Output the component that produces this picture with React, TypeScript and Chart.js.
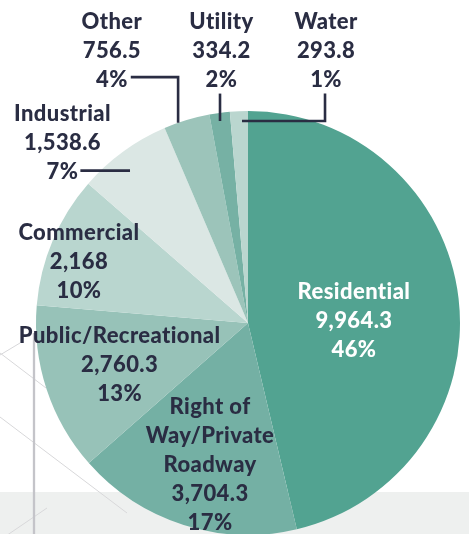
import { useEffect, useRef } from 'react';
import { Chart, registerables } from 'chart.js';

Chart.register(...registerables);

// ---- data ----
const categories = [
  'Residential',
  'Right of Way/Private Roadway',
  'Public/Recreational',
  'Commercial',
  'Industrial',
  'Other',
  'Utility',
  'Water',
];
const values = [9964.3, 3704.3, 2760.3, 2168, 1538.6, 756.5, 334.2, 293.8];
const nameLines = [
  ['Residential'],
  ['Right of', 'Way/Private', 'Roadway'],
  ['Public/Recreational'],
  ['Commercial'],
  ['Industrial'],
  ['Other'],
  ['Utility'],
  ['Water'],
];
const sliceColors = ['#52a391', '#74b0a4', '#97c2b8', '#b9d6cf', '#dbe7e4', '#9cc4ba', '#76b1a4', '#bad6cf'];

// ---- label layout (t = fraction across slice angle, f = fraction of radius) ----
type Place = {
  mode: 'in' | 'out';
  t: number;
  f: number;
  dx?: number;
  dy?: number;
  leader?: 'h' | 'hv' | 'v' | 'vh';
  color?: string;
};
const labelPlace: Place[] = [
  { mode: 'in', t: 0.531, f: 0.5, color: '#ffffff' },
  { mode: 'in', t: 0.458, f: 0.689 },
  { mode: 'in', t: 0.51, f: 0.636 },
  { mode: 'in', t: 0.42, f: 0.849 },
  { mode: 'out', dx: -0.875, dy: -0.851, leader: 'h', t: 0.433, f: 0.909 },
  { mode: 'out', dx: -0.642, dy: -1.285, leader: 'hv', t: 0.309, f: 1.0 },
  { mode: 'out', dx: -0.125, dy: -1.285, leader: 'v', t: 0.468, f: 0.962 },
  { mode: 'out', dx: 0.368, dy: -1.285, leader: 'vh', t: 0.654, f: 0.953 },
];

const TEXT = '#2a2d43';
const FONT_SIZE = 22;
const LINE_H = 29;
const FONT = `900 ${FONT_SIZE}px Lato, "Open Sans", sans-serif`;

const total = values.reduce((a, b) => a + b, 0);

const backdropPlugin = {
  id: 'backdrop',
  beforeDraw(chart: any) {
    const ctx = chart.ctx as CanvasRenderingContext2D;
    const w = chart.width;
    const h = chart.height;
    ctx.save();
    ctx.fillStyle = '#ffffff';
    ctx.fillRect(0, 0, w, h);
    ctx.fillStyle = '#eef0ef';
    ctx.fillRect(0, 492, w, h - 492);
    // decorative lines
    ctx.strokeStyle = '#d8d8da';
    ctx.lineWidth = 1;
    const segs = [
      [0, 355, 20, 343],
      [0, 353, 46, 388],
      [0, 417, 127, 513],
      [47, 508, 0, 540],
    ];
    segs.forEach(([a, b, c, d]) => {
      ctx.beginPath();
      ctx.moveTo(a, b);
      ctx.lineTo(c, d);
      ctx.stroke();
    });
    ctx.strokeStyle = '#c4c4c9';
    ctx.lineWidth = 2.3;
    ctx.beginPath();
    ctx.moveTo(34, 333);
    ctx.lineTo(34, h);
    ctx.stroke();
    ctx.restore();
  },
};

const labelPlugin = {
  id: 'sliceLabels',
  afterDatasetsDraw(chart: any) {
    const ctx = chart.ctx as CanvasRenderingContext2D;
    const meta = chart.getDatasetMeta(0);
    ctx.save();
    ctx.font = FONT;
    (ctx as any).letterSpacing = '0.4px';
    ctx.textAlign = 'center';
    ctx.textBaseline = 'alphabetic';
    const capHalf = FONT_SIZE * 0.717 / 2;
    meta.data.forEach((arc: any, i: number) => {
      const p = arc.getProps(['x', 'y', 'startAngle', 'endAngle', 'outerRadius'], true);
      const R = p.outerRadius;
      const place = labelPlace[i];
      const a = p.startAngle + place.t * (p.endAngle - p.startAngle);
      const ax = p.x + Math.cos(a) * R * place.f;
      const ay = p.y + Math.sin(a) * R * place.f;
      let cx: number;
      let cy: number;
      if (place.mode === 'in') {
        cx = ax;
        cy = ay;
      } else {
        cx = p.x + (place.dx as number) * R;
        cy = p.y + (place.dy as number) * R;
      }
      const pct = Math.round((values[i] / total) * 100) + '%';
      const valStr = values[i].toLocaleString('en-US', { maximumFractionDigits: 1 });
      const lines = [...nameLines[i], valStr, pct];
      const n = lines.length;
      ctx.fillStyle = place.color || TEXT;
      const mids: number[] = [];
      lines.forEach((ln, k) => {
        const mid = cy + (k - (n - 1) / 2) * LINE_H;
        mids.push(mid);
        ctx.fillText(ln, cx, mid + capHalf);
      });
      if (place.mode === 'out') {
        const lastMid = mids[n - 1];
        const lastW = ctx.measureText(lines[n - 1]).width;
        ctx.strokeStyle = TEXT;
        ctx.lineWidth = 2.6;
        ctx.lineCap = 'butt';
        ctx.lineJoin = 'miter';
        ctx.beginPath();
        if (place.leader === 'h') {
          ctx.moveTo(cx + lastW / 2 + 2, ay);
          ctx.lineTo(ax, ay);
        } else if (place.leader === 'hv') {
          const yy = lastMid - 2.5;
          ctx.moveTo(cx + lastW / 2 + 3, yy);
          ctx.lineTo(ax, yy);
          ctx.lineTo(ax, ay);
        } else if (place.leader === 'v') {
          ctx.moveTo(ax, lastMid + 14);
          ctx.lineTo(ax, ay);
        } else if (place.leader === 'vh') {
          ctx.moveTo(cx - 1, lastMid + 14);
          ctx.lineTo(cx - 1, ay);
          ctx.lineTo(ax, ay);
        }
        ctx.stroke();
      }
    });
    ctx.restore();
  },
};

export default function App() {
  const ref = useRef<HTMLCanvasElement>(null);
  useEffect(() => {
    const canvas = ref.current;
    if (!canvas) return;
    const chart = new Chart(canvas, {
      type: 'pie',
      data: {
        labels: categories,
        datasets: [
          {
            data: values,
            backgroundColor: sliceColors,
            borderWidth: 0,
            hoverOffset: 0,
            offset: 0,
          },
        ],
      },
      options: {
        responsive: false,
        animation: false,
        events: [],
        layout: { padding: { left: 36, right: 9, top: 111, bottom: 25 } },
        plugins: {
          legend: { display: false },
          tooltip: { enabled: false },
        },
      },
      plugins: [backdropPlugin, labelPlugin],
    });
    return () => chart.destroy();
  }, []);
  return (
    <div
      style={{
        position: 'fixed',
        left: 0,
        top: 0,
        width: 469,
        height: 534,
        overflow: 'hidden',
        background: '#ffffff',
      }}
    >
      <canvas ref={ref} width={469} height={560} style={{ display: 'block', width: 469, height: 560 }} />
    </div>
  );
}
